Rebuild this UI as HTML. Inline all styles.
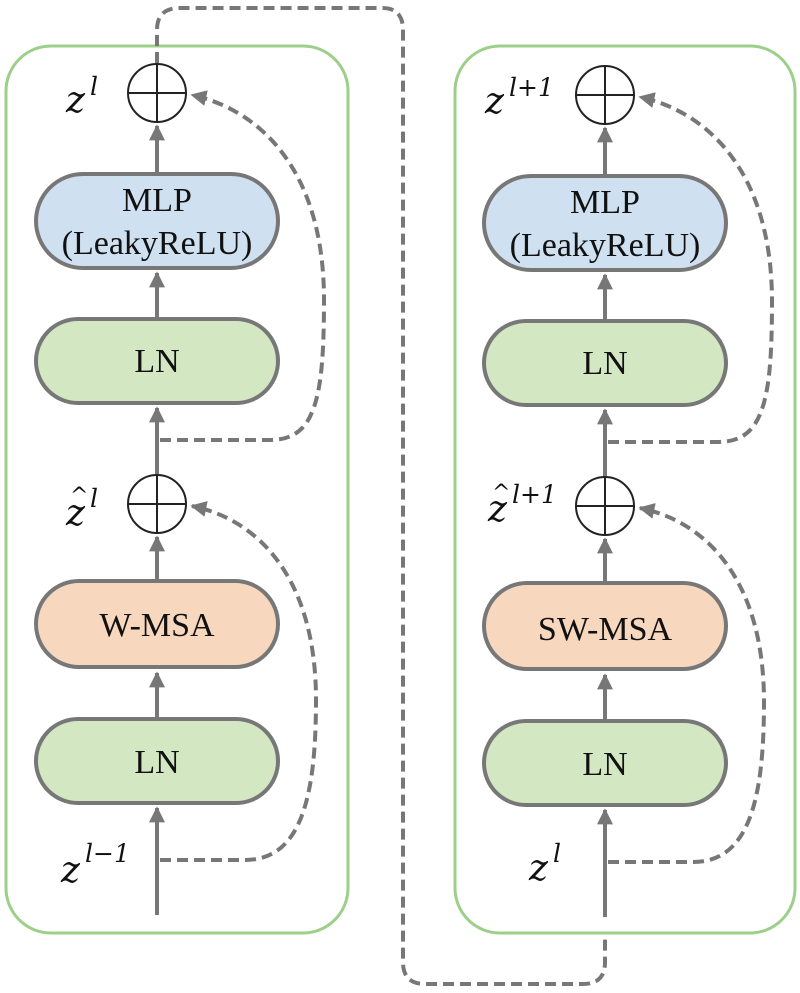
<!DOCTYPE html>
<html><head><meta charset="utf-8"><style>
html,body{margin:0;padding:0;background:#fff;}
svg{display:block;}
text{font-family:"Liberation Serif",serif;fill:#111;}
.m{font-style:italic;font-family:"DejaVu Serif","Liberation Serif",serif;}
</style></head><body>
<svg width="800" height="993" viewBox="0 0 800 993" xmlns="http://www.w3.org/2000/svg">
<defs>
<marker id="a" viewBox="0 0 10 10" refX="9" refY="5" markerWidth="4" markerHeight="4" orient="auto"><path d="M0,0 L10,5 L0,10 z" fill="#777"/></marker>
</defs>
<rect x="6" y="46" width="342" height="887" rx="45" fill="none" stroke="#9cd08a" stroke-width="3"/>
<rect x="455" y="46" width="340" height="887" rx="45" fill="none" stroke="#9cd08a" stroke-width="3"/>

<path d="M157,63 L157,30 Q157,8 180,8 L382,8 Q403,8 403,30 L403,962 Q403,984 425,984 L583,984 Q605,984 605,962 L605,935" fill="none" stroke="#777" stroke-width="4" stroke-dasharray="11,6"/>

<g id="col">
<g stroke="#777" stroke-width="4" fill="none">
<line x1="157" y1="915" x2="157" y2="808" marker-end="url(#a)"/>
<line x1="157" y1="718" x2="157" y2="673" marker-end="url(#a)"/>
<line x1="157" y1="580" x2="157" y2="537" marker-end="url(#a)"/>
<line x1="157" y1="474" x2="157" y2="408" marker-end="url(#a)"/>
<line x1="157" y1="318" x2="157" y2="273" marker-end="url(#a)"/>
<line x1="157" y1="173" x2="157" y2="126" marker-end="url(#a)"/>
</g>
<g stroke="#777" stroke-width="4" fill="none" stroke-dasharray="11,6">
<path d="M160,440 L270,440 C315,440 324,400 324,300 C324,170 260,110 192,95" marker-end="url(#a)"/>
<path d="M160,860 L245,860 C300,860 316,800 316,700 C316,580 260,520 192,506" marker-end="url(#a)"/>
</g>
<rect x="36" y="174" width="242" height="94" rx="47" fill="#cfe0f1" stroke="#777" stroke-width="4"/>
<rect x="36" y="319" width="242" height="84" rx="42" fill="#d3e7c2" stroke="#777" stroke-width="4"/>
<rect x="36" y="581" width="242" height="86" rx="43" fill="#f8d7bf" stroke="#777" stroke-width="4"/>
<rect x="36" y="719" width="242" height="84" rx="42" fill="#d3e7c2" stroke="#777" stroke-width="4"/>
<g stroke="#222" stroke-width="2" fill="#fff">
<circle cx="157" cy="93" r="29"/>
<circle cx="157" cy="504" r="29"/>
</g>
<g stroke="#222" stroke-width="2">
<line x1="128" y1="93" x2="186" y2="93"/><line x1="157" y1="64" x2="157" y2="122"/>
<line x1="128" y1="504" x2="186" y2="504"/><line x1="157" y1="475" x2="157" y2="533"/>
</g>
<g font-size="34" text-anchor="middle">
<text x="157" y="372">LN</text>
<text x="157" y="773">LN</text>
<text x="157" y="211">MLP</text>
<text x="157" y="254">(LeakyReLU)</text>
</g>
</g>
<text x="157" y="636" font-size="34" text-anchor="middle">W-MSA</text>

<use href="#col" transform="translate(448,2)"/>
<text x="605" y="640" font-size="34" text-anchor="middle">SW-MSA</text>

<g class="m">
<text x="66" y="112" font-size="36" class="m">z</text><text x="90" y="95" font-size="25" class="m">l</text>
<text x="66" y="525" font-size="36" class="m">z</text><text x="70" y="503" font-size="22" class="m">^</text><text x="90" y="507" font-size="25" class="m">l</text>
<text x="61" y="882" font-size="36" class="m">z</text><text x="85" y="862" font-size="25" class="m">l−1</text>
<text x="485" y="113" font-size="36" class="m">z</text><text x="509" y="96" font-size="25" class="m">l+1</text>
<text x="488" y="521" font-size="36" class="m">z</text><text x="492" y="500" font-size="22" class="m">^</text><text x="512" y="503" font-size="25" class="m">l+1</text>
<text x="529" y="880" font-size="36" class="m">z</text><text x="553" y="862" font-size="25" class="m">l</text>
</g>
</svg>
</body></html>
